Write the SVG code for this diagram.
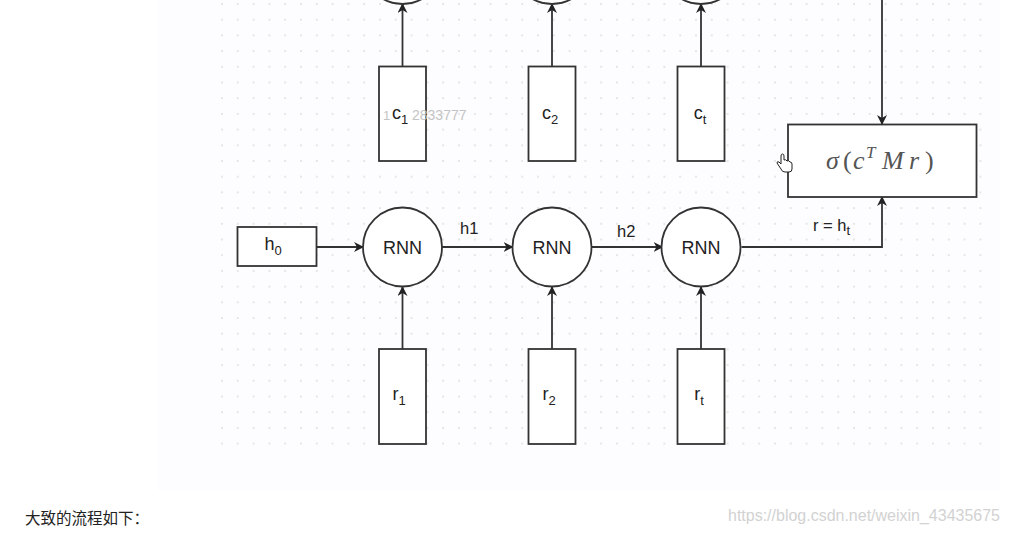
<svg xmlns="http://www.w3.org/2000/svg" width="1009" height="533" viewBox="0 0 1009 533">
<style>
.box{fill:#fff;stroke:#333;stroke-width:1.8}
.ln{fill:none;stroke:#333;stroke-width:1.8}
.lbl{font-family:"Liberation Sans",Arial,sans-serif;font-size:18px;fill:#222;text-anchor:middle}
.sub{font-size:13px}
.edge{font-family:"Liberation Sans",Arial,sans-serif;font-size:16.5px;fill:#222}
.math{font-family:"Liberation Serif","Times New Roman",serif;font-style:italic;font-size:26px;fill:#555}
</style>
<defs>
<marker id="arr" viewBox="0 0 10 10" refX="9" refY="5" markerWidth="10" markerHeight="10" markerUnits="userSpaceOnUse" orient="auto">
<path d="M0,0 L10,5 L0,10 L3,5 z" fill="#222"/>
</marker>
<pattern id="dots" x="221" y="3" width="15.8" height="15.7" patternUnits="userSpaceOnUse">
<circle cx="1" cy="1" r="0.9" fill="#dcdcdc"/>
</pattern>
</defs>
<rect x="0" y="0" width="1009" height="533" fill="#fff"/>
<rect x="158" y="0" width="842" height="490" fill="#fdfcfe"/>
<rect x="215" y="0" width="780" height="452" fill="url(#dots)"/>

<g id="connectors">
<line class="ln" x1="402.5" y1="66" x2="402.5" y2="4" marker-end="url(#arr)"/>
<line class="ln" x1="552" y1="66" x2="552" y2="4" marker-end="url(#arr)"/>
<line class="ln" x1="701" y1="66" x2="701" y2="4" marker-end="url(#arr)"/>
<line class="ln" x1="882" y1="0" x2="882" y2="124" marker-end="url(#arr)"/>
<line class="ln" x1="316.5" y1="247" x2="363" y2="247" marker-end="url(#arr)"/>
<line class="ln" x1="442" y1="247" x2="512.5" y2="247" marker-end="url(#arr)"/>
<line class="ln" x1="591.5" y1="247" x2="662.5" y2="247" marker-end="url(#arr)"/>
<polyline class="ln" points="741.5,247 882,247 882,197" marker-end="url(#arr)"/>
<line class="ln" x1="402.5" y1="349" x2="402.5" y2="287" marker-end="url(#arr)"/>
<line class="ln" x1="552" y1="349" x2="552" y2="287" marker-end="url(#arr)"/>
<line class="ln" x1="701" y1="349" x2="701" y2="287" marker-end="url(#arr)"/>
<text class="edge" x="460" y="234">h1</text>
<text class="edge" x="617" y="237">h2</text>
<text class="edge" x="813" y="231">r = h<tspan class="sub" font-size="12" dy="4">t</tspan></text>
</g>

<g id="top-rnn1"><circle class="box" cx="402.5" cy="-35.5" r="39.5"/></g>
<g id="top-rnn2"><circle class="box" cx="552" cy="-35.5" r="39.5"/></g>
<g id="top-rnn3"><circle class="box" cx="701" cy="-35.5" r="39.5"/></g>

<g id="c1"><rect class="box" x="379" y="66.5" width="47" height="94.5"/><text class="lbl" x="400" y="119">c<tspan class="sub" dy="5">1</tspan></text></g>
<g id="c2"><rect class="box" x="528.5" y="66.5" width="47" height="94.5"/><text class="lbl" x="550" y="119">c<tspan class="sub" dy="5">2</tspan></text></g>
<g id="ct"><rect class="box" x="677.5" y="66.5" width="47" height="94.5"/><text class="lbl" x="700" y="119">c<tspan class="sub" dy="5">t</tspan></text></g>

<g id="score"><rect class="box" x="788" y="124.5" width="188.5" height="72.5"/>
<text class="math" y="169"><tspan x="826">σ</tspan><tspan x="843" font-style="normal">(</tspan><tspan x="853">c</tspan><tspan x="866" dy="-11" font-size="17">T</tspan><tspan x="882" dy="11">M</tspan><tspan x="909">r</tspan><tspan x="925" font-style="normal">)</tspan></text>
</g>

<g id="h0"><rect class="box" x="237.5" y="227" width="79" height="39"/><text class="lbl" x="273" y="250">h<tspan class="sub" dy="5">0</tspan></text></g>

<g id="rnn1"><circle class="box" cx="402.5" cy="247" r="39.5"/><text class="lbl" x="402.5" y="253.5">RNN</text></g>
<g id="rnn2"><circle class="box" cx="552" cy="247" r="39.5"/><text class="lbl" x="552" y="253.5">RNN</text></g>
<g id="rnn3"><circle class="box" cx="701" cy="247" r="39.5"/><text class="lbl" x="701" y="253.5">RNN</text></g>

<g id="r1"><rect class="box" x="379" y="349" width="47" height="95"/><text class="lbl" x="399" y="400">r<tspan class="sub" dy="5">1</tspan></text></g>
<g id="r2"><rect class="box" x="528.5" y="349" width="47" height="95"/><text class="lbl" x="549" y="400">r<tspan class="sub" dy="5">2</tspan></text></g>
<g id="rt"><rect class="box" x="677.5" y="349" width="47" height="95"/><text class="lbl" x="699" y="400">r<tspan class="sub" dy="5">t</tspan></text></g>

<g id="overlay">
<text x="383" y="120" font-family="Liberation Sans,Arial,sans-serif" font-size="13" fill="#c4c4c4">1</text>
<text x="412" y="120" font-family="Liberation Sans,Arial,sans-serif" font-size="14" fill="#c4c4c4">2833777</text>
<path d="M781,156 v8 l-2,-2 q-2,-1 -2,1 l4,6 q1,3 4,3 h4 q3,0 3,-3 v-5 q0,-2 -2,-2 q-1,-2 -3,-1 q-1,-2 -3,-1 v-4 q0,-2 -1.5,-2 q-1.5,0 -1.5,2 z" fill="#fff" stroke="#222" stroke-width="1"/>
<text x="25" y="524" font-family="Noto Sans CJK SC,sans-serif" font-size="15.5" fill="#222">大致的流程如下：</text>
<text x="728" y="521" font-family="Liberation Sans Narrow,Liberation Sans,Arial,sans-serif" font-size="16" fill="#d2d2d2" textLength="272" lengthAdjust="spacingAndGlyphs">https://blog.csdn.net/weixin_43435675</text>
</g>
</svg>
